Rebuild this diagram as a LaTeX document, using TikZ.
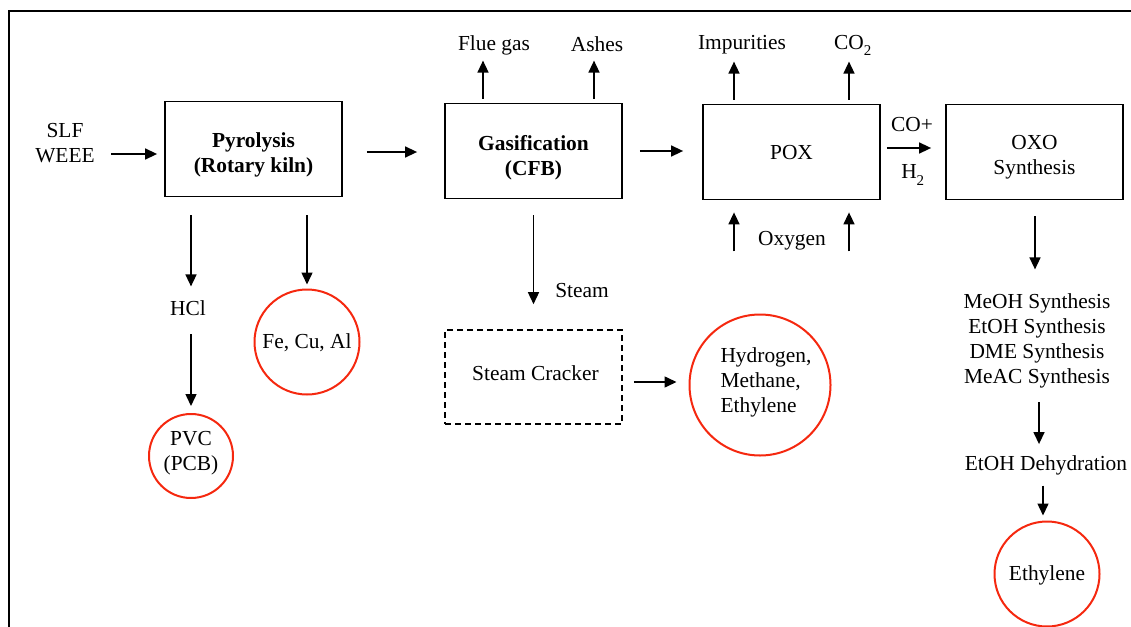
\documentclass[tikz,border=0pt]{standalone}
\usepackage{fontspec}
\setmainfont{Liberation Serif}
\usetikzlibrary{arrows.meta,calc}
\definecolor{ringred}{RGB}{245,40,15}
\tikzset{
  px/.style={x=1pt,y=-1pt},
  arr/.style={line width=1.5pt,-{Triangle[length=12pt,width=11pt]}},
  procbox/.style={draw,line width=1.8pt,minimum width=177pt,minimum height=95pt,inner sep=0pt},
  dashbox/.style={draw,dashed,dash pattern=on 6pt off 4pt,line width=1.6pt,minimum width=177pt,minimum height=94pt,inner sep=0pt},
  ring/.style={draw=ringred,line width=2pt,circle,inner sep=0pt},
  lbl/.style={inner sep=0pt,align=center},
  every node/.style={font=\fontsize{21.4}{25}\selectfont}
}
\newcommand{\lowsub}[1]{\raisebox{-0.3ex}{\textsubscript{#1}}}
\begin{document}
\begin{tikzpicture}[px]
\useasboundingbox (0,0) rectangle (1131,626);
\draw[line width=2pt] (9,11) rectangle (1150,650);

% process boxes
\node[procbox] (pyro) at (253.5,149) {};
\node[procbox] (gas) at (533.5,151) {};
\node[procbox] (pox) at (791.5,152) {};
\node[procbox] (oxo) at (1034.5,152) {};
\node[dashbox] (crack) at (533.5,377) {};

% product circles
\node[ring,minimum size=84pt] (pvc) at (191,456) {};
\node[ring,minimum size=105pt] (fe) at (307,342) {};
\node[ring,minimum size=141pt] (hme) at (760,385) {};
\node[ring,minimum size=105pt] (eth) at (1047,574) {};

% texts inside shapes
\node[lbl] (pyrot) at ($(pyro)+(0,6)$) {\textbf{Pyrolysis}\\\textbf{(Rotary kiln)}};
\node[lbl] (gast) at ($(gas)+(0,7)$) {\textbf{Gasification}\\\textbf{(CFB)}};
\node[lbl] (poxt) at ($(pox)+(0,1)$) {POX};
\node[lbl] (oxot) at ($(oxo)+(0,5)$) {OXO\\Synthesis};
\node[lbl] (crackt) at ($(crack)+(2,-4)$) {Steam Cracker};
\node[lbl] (pvct) at ($(pvc)+(0,-3)$) {PVC\\(PCB)};
\node[lbl] (fet) at ($(fe)+(0,1)$) {Fe, Cu, Al};
\node[lbl,align=left] (hmet) at ($(hme)+(6,-3)$) {Hydrogen,\\Methane,\\Ethylene};
\node[lbl] (etht) at ($(eth)+(0,1)$) {Ethylene};

% labels
\node[lbl] (slf) at (65,143) {SLF\\WEEE};
\node[lbl] (flue) at (494,45) {Flue gas};
\node[lbl] (ashes) at (597,44) {Ashes};
\node[lbl] (imp) at (742,45) {Impurities};
\node[lbl] (co2) at (853,45) {CO\lowsub{2}};
\node[lbl] (oxy) at (792,241) {Oxygen};
\node[lbl] (coplus) at (912,125) {CO+};
\node[lbl] (h2) at (913,175) {H\lowsub{2}};
\node[lbl] (hcl) at (188,308) {HCl};
\node[lbl] (steam) at (582,291) {Steam};
\node[lbl] (syn) at (1037,341) {MeOH Synthesis\\EtOH Synthesis\\DME Synthesis\\MeAC Synthesis};
\node[lbl] (dehyd) at (1046,465) {EtOH Dehydration};

% main line arrows
\draw[arr] ($(pyro.west)+(-53,5)$) -- ($(pyro.west)+(-7,5)$);
\draw[arr] ($(pyro.east|-gas.west)+(24,1)$) -- ($(gas.west)+(-27,1)$);
\draw[arr] ($(gas.east)+(17,0)$) -- ($(pox.west)+(-19,-1)$);
\draw[arr] ($(pox.east)+(6,-4)$) -- ($(oxo.west)+(-14,-4)$);

% gasification outputs
\draw[arr] ($(gas.north)+(-50.5,-4)$) -- ($(gas.north)+(-50.5,-42)$);
\draw[arr] ($(gas.north)+(60.5,-4)$) -- ($(gas.north)+(60.5,-42)$);
\draw[arr] ($(gas.south)+(0,16)$) -- ($(crack.north)+(0,-25)$);
\draw[arr] ($(crack.east)+(11,5)$) -- ($(hme.west)+(-12,-3)$);

% POX outputs and inputs
\draw[arr] ($(pox.north)+(-57.5,-4)$) -- ($(pox.north)+(-57.5,-42)$);
\draw[arr] ($(pox.north)+(57.5,-4)$) -- ($(pox.north)+(57.5,-42)$);
\draw[arr] ($(pox.south)+(-57.5,51)$) -- ($(pox.south)+(-57.5,12)$);
\draw[arr] ($(pox.south)+(57.5,51)$) -- ($(pox.south)+(57.5,12)$);

% pyrolysis outputs
\draw[arr] ($(pyro.south)+(-62.5,18)$) -- ($(pyro.south)+(-62.5,89)$);
\draw[arr] ($(pyro.south)+(53.5,18)$) -- ($(fe.north)+(0,-4)$);
\draw[arr] ($(pvc.north)+(0,-79)$) -- ($(pvc.north)+(0,-7)$);

% OXO chain
\draw[arr] ($(oxo.south)+(0.5,16)$) -- ($(oxo.south)+(0.5,69)$);
\draw[arr] ($(syn.south)+(2,14)$) -- ($(dehyd.north)+(-7,-11)$);
\draw[arr] ($(eth.north)+(-4,-35)$) -- ($(eth.north)+(-4,-5)$);
\end{tikzpicture}
\end{document}
